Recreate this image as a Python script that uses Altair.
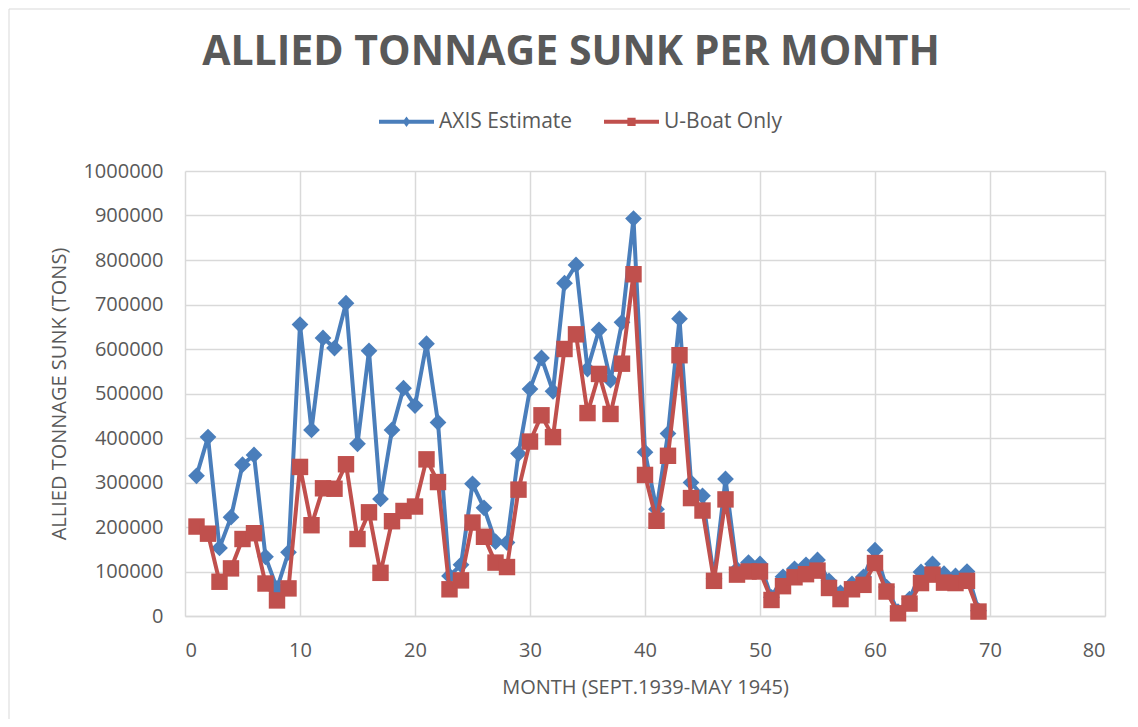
import altair as alt
import pandas as pd

months = list(range(1, 70))
axis_estimate = [315000, 402000, 153000, 222000, 340000, 362000, 133000, 62000, 143000, 655000,
                 418000, 625000, 602000, 703000, 387000, 596000, 263000, 418000, 512000, 473000,
                 612000, 435000, 90000, 115000, 297000, 243000, 167000, 165000, 365000, 510000,
                 580000, 505000, 748000, 789000, 555000, 643000, 530000, 660000, 893000, 368000,
                 240000, 410000, 668000, 300000, 270000, 85000, 308000, 105000, 120000, 117000,
                 42000, 88000, 106000, 115000, 126000, 79000, 52000, 72000, 88000, 148000,
                 65000, 10000, 38000, 99000, 117000, 95000, 90000, 100000, 12000]
uboat_only = [201000, 185000, 77000, 107000, 173000, 186000, 73000, 35000, 62000, 335000,
              204000, 287000, 286000, 341000, 173000, 233000, 97000, 213000, 236000, 246000,
              352000, 301000, 60000, 80000, 210000, 178000, 120000, 110000, 284000, 392000,
              451000, 402000, 600000, 633000, 456000, 544000, 454000, 567000, 768000, 317000,
              214000, 360000, 586000, 265000, 237000, 79000, 262000, 93000, 100000, 100000,
              36000, 67000, 87000, 94000, 102000, 63000, 38000, 60000, 70000, 119000,
              55000, 6000, 28000, 74000, 93000, 75000, 74000, 79000, 10000]
series_names = ["AXIS Estimate", "U-Boat Only"]
colors = ["#4A7EBB", "#C0504D"]

df = pd.concat([
    pd.DataFrame({"month": months, "tons": axis_estimate, "series": series_names[0]}),
    pd.DataFrame({"month": months, "tons": uboat_only, "series": series_names[1]}),
])

TXT = "#595959"
GRID = "#D9D9D9"

x_enc = alt.X("month:Q", scale=alt.Scale(domain=[0, 80], nice=False),
              axis=alt.Axis(values=list(range(0, 81, 10)), title="MONTH (SEPT.1939-MAY 1945)"))
y_enc = alt.Y("tons:Q", scale=alt.Scale(domain=[0, 1000000], nice=False),
              axis=alt.Axis(values=list(range(0, 1000001, 100000)), format="d",
                            title="ALLIED TONNAGE SUNK (TONS)"))
color_enc = alt.Color("series:N", scale=alt.Scale(domain=series_names, range=colors), legend=None)

base = alt.Chart(df).encode(x=x_enc, y=y_enc)

layers = []
for name, shape, size in [(series_names[0], "diamond", 280), (series_names[1], "square", 270)]:
    b = base.transform_filter(alt.datum.series == name)
    layers.append(b.mark_line(strokeWidth=4).encode(color=color_enc))
    layers.append(b.mark_point(shape=shape, size=size, filled=True, opacity=1).encode(color=color_enc))

legend_paths = [
    "M-1,-0.075L1,-0.075L1,0.075L-1,0.075Z M0,-0.19L0.14,0L0,0.19L-0.14,0Z",
    "M-1,-0.075L1,-0.075L1,0.075L-1,0.075Z M-0.15,-0.15L0.15,-0.15L0.15,0.15L-0.15,0.15Z",
]
leg = alt.Legend(title=None, orient="none", direction="horizontal",
                 legendX=194, legendY=-77, symbolSize=3025,
                 symbolOpacity=1, symbolStrokeWidth=0,
                 labelFontSize=21, labelColor=TXT, labelFont="Open Sans",
                 labelOffset=5, columnPadding=31)
legend_layer = base.mark_point(filled=True, opacity=0).encode(
    color=alt.Color("series:N", scale=alt.Scale(domain=series_names, range=colors), legend=leg),
    shape=alt.Shape("series:N", scale=alt.Scale(domain=series_names, range=legend_paths), legend=leg),
)

frame = alt.Chart(pd.DataFrame({"k": [0]})).mark_rect(
    fill=None, stroke="#D9D9D9", strokeWidth=1
).encode(x=alt.value(-176), x2=alt.value(948), y=alt.value(-162), y2=alt.value(552))

chart = alt.layer(frame, *layers, legend_layer).resolve_scale(
    color="independent", shape="independent"
).properties(
    width=920, height=445,
    title=alt.TitleParams("ALLIED TONNAGE SUNK PER MONTH", fontSize=41, fontWeight="bold",
                          font="Open Sans", color=TXT, offset=0, dy=65, anchor="middle",
                          frame="bounds", limit=1100),
    autosize=alt.AutoSizeParams(type="none"),
    padding={"left": 177, "top": 163, "right": 25, "bottom": 103},
).configure_view(stroke=None).configure_axis(
    gridColor=GRID, gridWidth=1.5, domainColor=GRID, domainWidth=1.5, ticks=False,
    labelColor=TXT, labelFont="Open Sans", labelFontSize=20, titleColor=TXT,
    titleFont="Open Sans", titleFontSize=20, titleFontWeight="normal",
).configure_axisX(
    domain=True, labelPadding=24, titlePadding=17
).configure_axisY(
    domain=False, labelPadding=22, titlePadding=13
).configure_text(font="Open Sans")

chart.save("out.html", embed_options={"renderer": "svg", "actions": False})
